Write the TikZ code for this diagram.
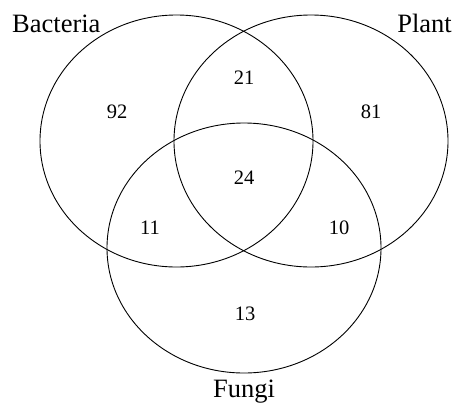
\documentclass[tikz,border=0pt]{standalone}
\usepackage{fontspec}
\setmainfont{Liberation Serif}
\usetikzlibrary{positioning}

\begin{document}
\begin{tikzpicture}[x=1pt,y=-1pt,
    setname/.style={inner sep=0pt,font=\fontsize{26.5}{31}\selectfont},
    count/.style={inner sep=0pt,font=\fontsize{20.5}{24}\selectfont}]
    % Ramme
    \useasboundingbox (0,0) rectangle (462,405);
    % Mængderne (ellipser)
    \draw[line width=0.9pt] (176.5,141) ellipse (136.5 and 126);
    \draw[line width=0.9pt] (311,141) ellipse (137 and 126);
    \draw[line width=0.9pt] (244,248) ellipse (137 and 125);
    % Navne
    \node[setname,anchor=base west] (bacteria) at (12,32) {Bacteria};
    \node[setname,anchor=base east] (plant) at (452,32) {Plant};
    \node[setname,anchor=base] (fungi) at (244,397) {Fungi};
    % Antal i hvert felt
    \node[count] (nB)   at (117,112) {92};
    \node[count] (nP)   at (371,112) {81};
    \node[count] (nBP)  at (244,78)  {21};
    \node[count] (nBPF) at (244,178) {24};
    \node[count] (nBF)  at (150,228) {11};
    \node[count] (nPF)  at (339,228) {10};
    \node[count] (nF)   at (245,314) {13};
  \end{tikzpicture}
\end{document}
